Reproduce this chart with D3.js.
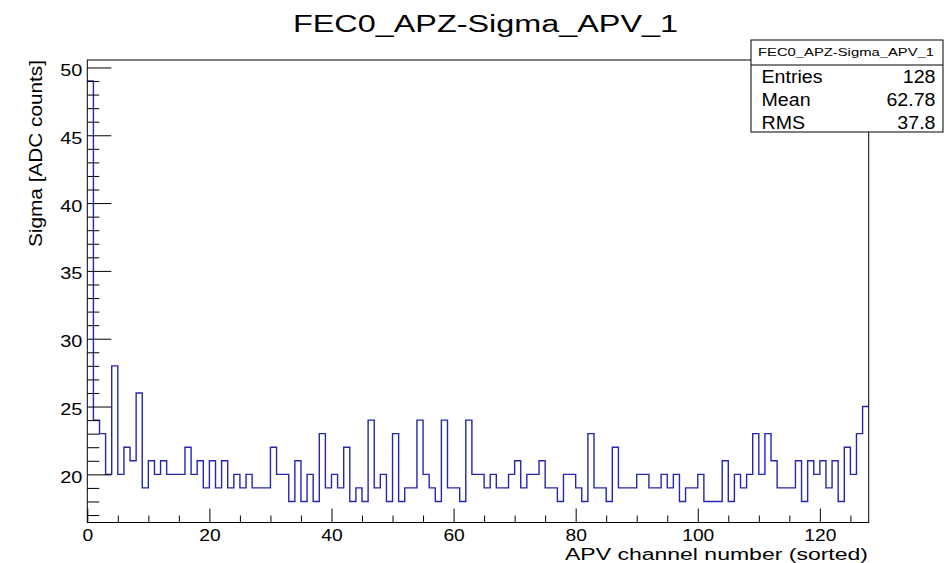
<!DOCTYPE html>
<html><head><meta charset="utf-8">
<script src="https://cdn.jsdelivr.net/npm/d3@7/dist/d3.min.js"></script>
<style>
body{margin:0;background:#fff}
text{font-family:"Liberation Sans",Arial,Helvetica,sans-serif;fill:#000}
</style>
</head><body>
<svg id="c" width="944" height="563"></svg>
<script>
// ---- data ----
const chartTitle = "FEC0_APZ-Sigma_APV_1";
const xTitle = "APV channel number (sorted)";
const yTitle = "Sigma [ADC counts]";
const sigma = [
  49,24,23,20,28,20,22,21,26,19, 21,20,21,20,20,20,22,20,21,19,
  21,19,21,19,20,19,20,19,19,19, 22,20,20,18,21,18,20,18,23,19,
  20,19,22,18,19,18,24,19,20,18, 23,18,19,19,24,20,19,18,24,19,
  19,18,24,20,20,19,20,19,19,20, 21,19,20,20,21,19,19,18,20,20,
  19,18,23,19,19,18,22,19,19,19, 20,20,19,19,20,19,20,18,19,19,
  20,18,18,18,21,18,20,19,20,23, 20,23,21,19,19,19,21,18,21,20,
  21,19,21,18,22,20,23,25
];
const xTickValues = [0,20,40,60,80,100,120];
const xMinorValues = [5,10,15,25,30,35,45,50,55,65,70,75,85,90,95,105,110,115,125];
const yTickValues = [20,25,30,35,40,45,50];
const yMinorValues = [17,18,19,21,22,23,24,26,27,28,29,31,32,33,34,36,37,38,39,41,42,43,44,46,47,48,49];
const statsLabels = ["Entries","Mean","RMS"];
const statsValues = ["128","62.78","37.8"];

// ---- layout ----
const svg = d3.select("#c");
const L = 87.3, R = 868.7, T = 60, B = 522.5;
const x = d3.scaleLinear().domain([0, sigma.length]).range([L, R]);
const y = d3.scaleLinear().domain([16.45, 50.55]).range([B, T]);

function stretch(sel, f){
  sel.each(function(){
    const w = this.getComputedTextLength();
    d3.select(this).attr("textLength", w*f).attr("lengthAdjust","spacingAndGlyphs");
  });
}

svg.append("rect").attr("width",944).attr("height",563).attr("fill","#fff");

// histogram outline
const pts = sigma.map((v,i)=>[i,v]);
pts.push([sigma.length, sigma[sigma.length-1]]);
svg.append("path")
  .attr("d", d3.line().x(d=>x(d[0])).y(d=>y(d[1])).curve(d3.curveStepAfter)(pts))
  .attr("fill","none").attr("stroke","#2626b0").attr("stroke-width",1.4);

// x axis
const gx = svg.append("g").attr("transform",`translate(0,${B})`);
gx.call(d3.axisBottom(x).tickValues(xTickValues).tickSize(-14).tickPadding(6).tickFormat(d3.format("d")));
gx.append("g").call(d3.axisBottom(x).tickValues(xMinorValues).tickSize(-7).tickFormat(""));
gx.selectAll(".domain").remove();
gx.selectAll("line").attr("stroke","#000");
gx.selectAll("text").attr("font-size",17).attr("fill","#000");
stretch(gx.selectAll("text"), 1.13);

// y axis
const gy = svg.append("g").attr("transform",`translate(${L},0)`);
gy.call(d3.axisLeft(y).tickValues(yTickValues).tickSize(-24).tickPadding(5).tickFormat(d3.format("d")));
gy.append("g").call(d3.axisLeft(y).tickValues(yMinorValues).tickSize(-12).tickFormat(""));
gy.selectAll(".domain").remove();
gy.selectAll("line").attr("stroke","#000");
gy.selectAll("text").attr("font-size",17).attr("dy","0.47em").attr("fill","#000");
stretch(gy.selectAll("text"), 1.17);

// frame
svg.append("rect").attr("x",L).attr("y",T).attr("width",R-L).attr("height",B-T)
  .attr("fill","none").attr("stroke","#000").attr("stroke-width",1);

// titles
svg.append("text").attr("x",485.5).attr("y",31.7).attr("text-anchor","middle")
  .attr("font-size",23.5).attr("textLength",385).attr("lengthAdjust","spacingAndGlyphs").text(chartTitle);
svg.append("text").attr("x",868).attr("y",559.5).attr("text-anchor","end")
  .attr("font-size",16).attr("textLength",303).attr("lengthAdjust","spacingAndGlyphs").text(xTitle);
svg.append("text").attr("transform","translate(41.5,60) rotate(-90)").attr("text-anchor","end")
  .attr("font-size",18).attr("textLength",187).attr("lengthAdjust","spacingAndGlyphs").text(yTitle);

// stats box
const sb = svg.append("g");
sb.append("rect").attr("x",751).attr("y",40).attr("width",192).attr("height",92)
  .attr("fill","#fff").attr("stroke","#000").attr("stroke-width",1);
sb.append("line").attr("x1",751).attr("x2",943).attr("y1",65).attr("y2",65).attr("stroke","#000");
sb.append("text").attr("x",846).attr("y",55.5).attr("text-anchor","middle")
  .attr("font-size",11.5).attr("textLength",176).attr("lengthAdjust","spacingAndGlyphs").text(chartTitle);
const rowY = [82.7, 106, 129];
statsLabels.forEach((s,i)=>{
  const t = sb.append("text").attr("x",761.5).attr("y",rowY[i]).attr("font-size",17.5).text(s);
  stretch(t, 1.12);
  const v = sb.append("text").attr("x",935.5).attr("y",rowY[i]).attr("text-anchor","end").attr("font-size",17.5).text(statsValues[i]);
  stretch(v, 1.12);
});
</script>
</body></html>
